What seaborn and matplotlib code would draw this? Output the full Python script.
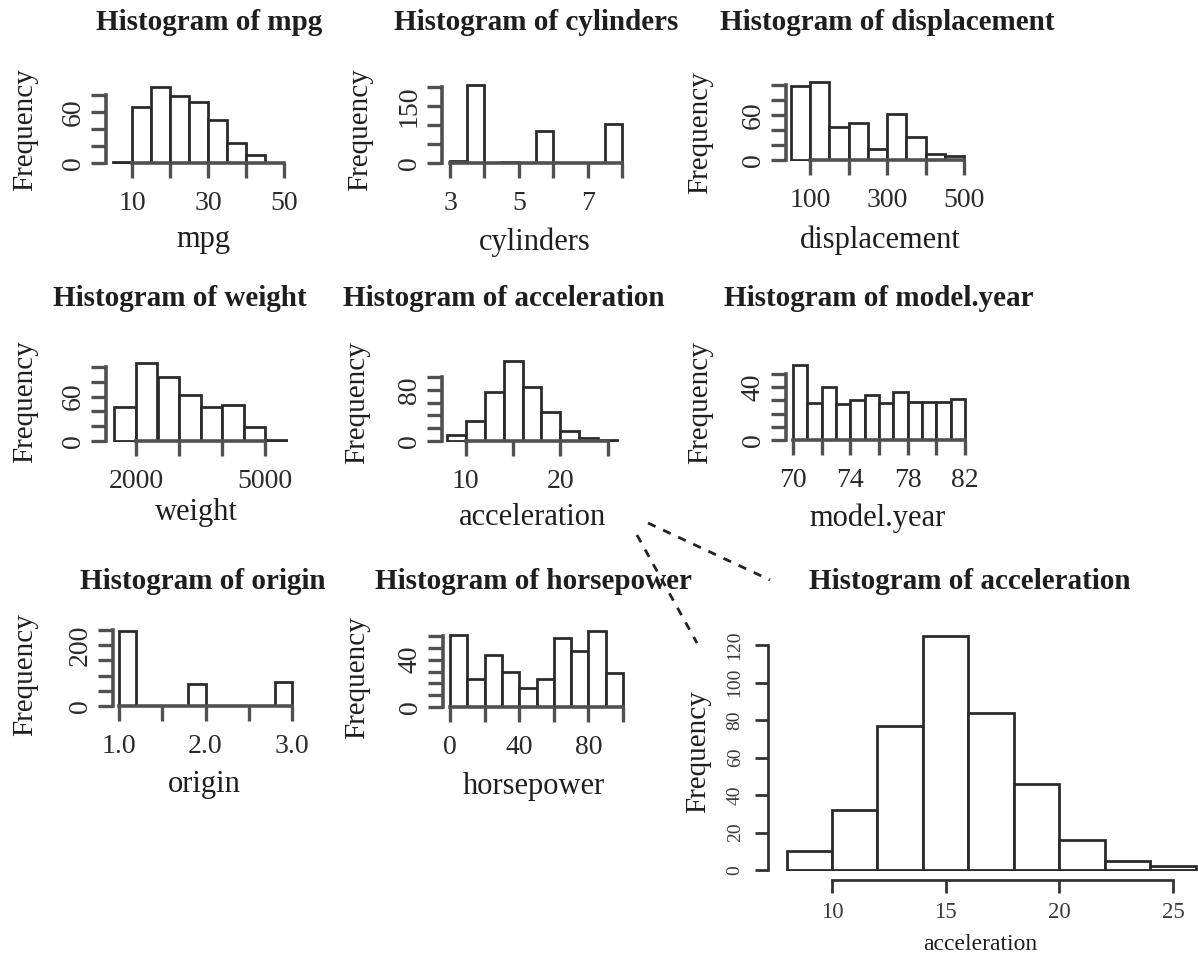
import numpy as np
import matplotlib
matplotlib.use("Agg")
import matplotlib.pyplot as plt
import matplotlib.transforms as mtransforms
from matplotlib.lines import Line2D
import seaborn as sns

sns.set_style("white")
plt.rcParams["font.family"] = ["Liberation Serif", "DejaVu Serif"]

# histogram data
mpg_edges = [5, 10, 15, 20, 25, 30, 35, 40, 45]
mpg_counts = [1, 66, 90, 79, 72, 51, 24, 9]
cyl_edges = [3, 3.5, 4, 4.5, 5, 5.5, 6, 6.5, 7, 7.5, 8]
cyl_counts = [4, 204, 0, 3, 0, 84, 0, 0, 0, 103]
disp_edges = [50, 100, 150, 200, 250, 300, 350, 400, 450, 500]
disp_counts = [99, 104, 44, 49, 15, 62, 31, 8, 6]
weight_edges = [1500, 2000, 2500, 3000, 3500, 4000, 4500, 5000, 5500]
weight_counts = [46, 105, 86, 62, 46, 48, 19, 2]
accel_edges = [8, 10, 12, 14, 16, 18, 20, 22, 24, 26]
accel_counts = [10, 32, 77, 125, 84, 46, 16, 5, 2]
year_edges = [70, 71, 72, 73, 74, 75, 76, 77, 78, 79, 80, 81, 82]
year_counts = [57, 28, 40, 27, 30, 34, 28, 36, 29, 29, 29, 31]
origin_edges = [1.0, 1.2, 1.4, 1.6, 1.8, 2.0, 2.2, 2.4, 2.6, 2.8, 3.0]
origin_counts = [248, 0, 0, 0, 71, 0, 0, 0, 0, 78]
hp_edges = [0, 10, 20, 30, 40, 50, 60, 70, 80, 90, 100]
hp_counts = [61, 24, 44, 30, 16, 24, 58, 47, 64, 29]

# tick positions and labels
mpg_xticks, mpg_xlab = [10, 20, 30, 40, 50], ["10", "", "30", "", "50"]
mpg_yticks, mpg_ylab = [0, 20, 40, 60, 80], ["0", "", "", "60", ""]
cyl_xticks, cyl_xlab = [3, 4, 5, 6, 7, 8], ["3", "", "5", "", "7", ""]
cyl_yticks, cyl_ylab = [0, 50, 100, 150, 200], ["0", "", "", "150", ""]
disp_xticks, disp_xlab = [100, 200, 300, 400, 500], ["100", "", "300", "", "500"]
disp_yticks, disp_ylab = [0, 20, 40, 60, 80, 100], ["0", "", "", "60", "", ""]
weight_xticks, weight_xlab = [2000, 3000, 4000, 5000], ["2000", "", "", "5000"]
weight_yticks, weight_ylab = [0, 20, 40, 60, 80, 100], ["0", "", "", "60", "", ""]
accel_xticks, accel_xlab = [10, 15, 20, 25], ["10", "", "20", ""]
accel_yticks, accel_ylab = [0, 20, 40, 60, 80, 100], ["0", "", "", "", "80", ""]
year_xticks, year_xlab = [70, 72, 74, 76, 78, 80, 82], ["70", "", "74", "", "78", "", "82"]
year_yticks, year_ylab = [0, 10, 20, 30, 40, 50], ["0", "", "", "", "40", ""]
origin_xticks, origin_xlab = [1.0, 1.5, 2.0, 2.5, 3.0], ["1.0", "", "2.0", "", "3.0"]
origin_yticks, origin_ylab = [0, 50, 100, 150, 200, 250], ["0", "", "", "", "200", ""]
hp_xticks, hp_xlab = [0, 20, 40, 60, 80, 100], ["0", "", "40", "", "80", ""]
hp_yticks, hp_ylab = [0, 10, 20, 30, 40, 50, 60], ["0", "", "", "", "40", "", ""]
big_xticks = [10, 15, 20, 25]
big_yticks = [0, 20, 40, 60, 80, 100, 120]

W, H = 1198, 956
fig = plt.figure(figsize=(W / 100, H / 100), dpi=100)
px = mtransforms.Affine2D().scale(1 / W, -1 / H).translate(0, 1) + fig.transFigure
PT = 72 / 100
EDGE = "#2b2b2b"
AXC = "#505050"
TXT = "#1e1e1e"


def place(m, xlim, ylim):
    (xa, pxa), (xb, pxb), (ya, pya), (yb, pyb) = m
    sx = (pxb - pxa) / (xb - xa)
    sy = (pya - pyb) / (yb - ya)
    left = pxa + (xlim[0] - xa) * sx
    right = pxa + (xlim[1] - xa) * sx
    top = pya - (ylim[1] - ya) * sy
    bottom = pya - (ylim[0] - ya) * sy
    ax = fig.add_axes([left / W, 1 - bottom / H, (right - left) / W, (bottom - top) / H])
    ax.set_xlim(xlim)
    ax.set_ylim(ylim)
    return ax, left, bottom


def hist(ax, edges, counts):
    centers = [(a + b) / 2 for a, b in zip(edges[:-1], edges[1:])]
    sns.histplot(x=centers, weights=counts, bins=edges, ax=ax, color="white",
                 edgecolor=EDGE, linewidth=2.0, alpha=1, legend=False)


def small(name, edges, counts, xt, xl, yt, yl, m, spine_x, title_xy, xlab_xy, ylab_xy):
    span = edges[-1] - edges[0]
    xlim = (min(edges[0], xt[0]) - span * 0.01, max(edges[-1], xt[-1]) + span * 0.01)
    ymax = max(max(counts), yt[-1])
    ax, left, bottom = place(m, xlim, (-ymax * 0.01, ymax * 1.02))
    hist(ax, edges, counts)
    for s in ["top", "right"]:
        ax.spines[s].set_visible(False)
    ax.spines["left"].set_position(("outward", (left - spine_x) * PT))
    ax.spines["left"].set_bounds(yt[0], yt[-1])
    ax.spines["bottom"].set_position(("data", 0))
    ax.spines["bottom"].set_bounds(xt[0], xt[-1])
    for s in ["left", "bottom"]:
        ax.spines[s].set_color(AXC)
        ax.spines[s].set_linewidth(2.6)
        ax.spines[s].set_zorder(3)
    ax.set_xticks(xt, xl)
    ax.set_yticks(yt, yl)
    ax.tick_params(axis="both", bottom=True, left=True, direction="out", length=11,
                   width=2.4, color=AXC, labelsize=20, labelcolor="#2a2a2a")
    ax.tick_params(axis="x", pad=9)
    ax.tick_params(axis="y", pad=3.5, labelrotation=90)
    for t in ax.get_yticklabels():
        t.set_va("center")
    ax.set_xlabel(name, fontsize=22, color=TXT)
    ax.set_ylabel("Frequency", fontsize=21, color=TXT)
    ax.xaxis.set_label_coords(xlab_xy[0], xlab_xy[1], transform=px)
    ax.yaxis.set_label_coords(ylab_xy[0], ylab_xy[1], transform=px)
    ax.xaxis.label.set_va("center")
    ax.yaxis.label.set_va("center")
    fig.text(title_xy[0], title_xy[1], "Histogram of " + name, transform=px,
             ha="center", va="center", fontsize=21, fontweight="bold", color=TXT)
    ax.patch.set_alpha(0)
    return ax


small("mpg", mpg_edges, mpg_counts, mpg_xticks, mpg_xlab, mpg_yticks, mpg_ylab,
      ((5, 113), (50, 284), (0, 163), (80, 95)), 106, (209, 22), (203, 240), (25, 130))
small("cylinders", cyl_edges, cyl_counts, cyl_xticks, cyl_xlab, cyl_yticks, cyl_ylab,
      ((3, 450), (8, 622), (0, 163), (200, 87)), 442, (536, 22), (535, 242), (360, 130))
small("displacement", disp_edges, disp_counts, disp_xticks, disp_xlab, disp_yticks, disp_ylab,
      ((100, 810), (500, 964), (0, 160), (100, 85)), 786, (887, 22), (880, 240), (700, 133))
small("weight", weight_edges, weight_counts, weight_xticks, weight_xlab, weight_yticks, weight_ylab,
      ((2000, 136), (5000, 265), (0, 441), (100, 367)), 106, (180, 298), (196, 513), (25, 402))
small("acceleration", accel_edges, accel_counts, accel_xticks, accel_xlab, accel_yticks, accel_ylab,
      ((8, 447), (26, 617), (0, 441), (100, 377)), 442, (504, 298), (533, 518), (357, 403))
small("model.year", year_edges, year_counts, year_xticks, year_xlab, year_yticks, year_ylab,
      ((70, 793), (82, 965), (0, 440), (50, 374)), 786, (879, 298), (878, 518), (700, 403))
small("origin", origin_edges, origin_counts, origin_xticks, origin_xlab, origin_yticks, origin_ylab,
      ((1, 119), (3, 292), (0, 706), (250, 630)), 113, (203, 582), (204, 785), (25, 675))
small("horsepower", hp_edges, hp_counts, hp_xticks, hp_xlab, hp_yticks, hp_ylab,
      ((0, 450), (100, 623), (0, 707), (60, 636)), 443, (533, 582), (534, 787), (357, 678))

# enlarged acceleration histogram
ax, left, bottom = place(((10, 832), (25, 1173), (0, 870), (120, 645)), (7.8, 26.1), (-0.5, 127))
hist(ax, accel_edges, accel_counts)
for s in ["top", "right"]:
    ax.spines[s].set_visible(False)
ax.spines["left"].set_position(("outward", (left - 768) * PT))
ax.spines["left"].set_bounds(0, 120)
ax.spines["bottom"].set_position(("outward", (880 - bottom) * PT))
ax.spines["bottom"].set_bounds(10, 25)
for s in ["left", "bottom"]:
    ax.spines[s].set_color("#333333")
    ax.spines[s].set_linewidth(2.0)
ax.set_xticks(big_xticks, [str(v) for v in big_xticks])
ax.set_yticks(big_yticks, [str(v) for v in big_yticks])
ax.tick_params(axis="both", bottom=True, left=True, direction="out", length=9.5,
               width=2.0, color="#333333", labelcolor="#3a3a3a")
ax.tick_params(axis="x", labelsize=16.5, pad=6)
ax.tick_params(axis="y", labelsize=14, pad=8, labelrotation=90)
for t in ax.get_yticklabels():
    t.set_va("center")
ax.set_xlabel("acceleration", fontsize=17, color=TXT)
ax.set_ylabel("Frequency", fontsize=21, color=TXT)
ax.xaxis.set_label_coords(980, 945, transform=px)
ax.yaxis.set_label_coords(698, 752, transform=px)
ax.xaxis.label.set_va("center")
ax.yaxis.label.set_va("center")
ax.patch.set_alpha(0)
fig.text(970, 582, "Histogram of acceleration", transform=px, ha="center", va="center",
         fontsize=21, fontweight="bold", color=TXT)

# dashed zoom lines
for (x0, y0), (x1, y1) in [((648, 523), (770, 580)), ((637, 535), (697, 643))]:
    fig.add_artist(Line2D([x0, x1], [y0, y1], transform=px, color="#222222",
                          linewidth=2.0, linestyle=(0, (3, 3))))

fig.savefig("out.png", dpi=100)
